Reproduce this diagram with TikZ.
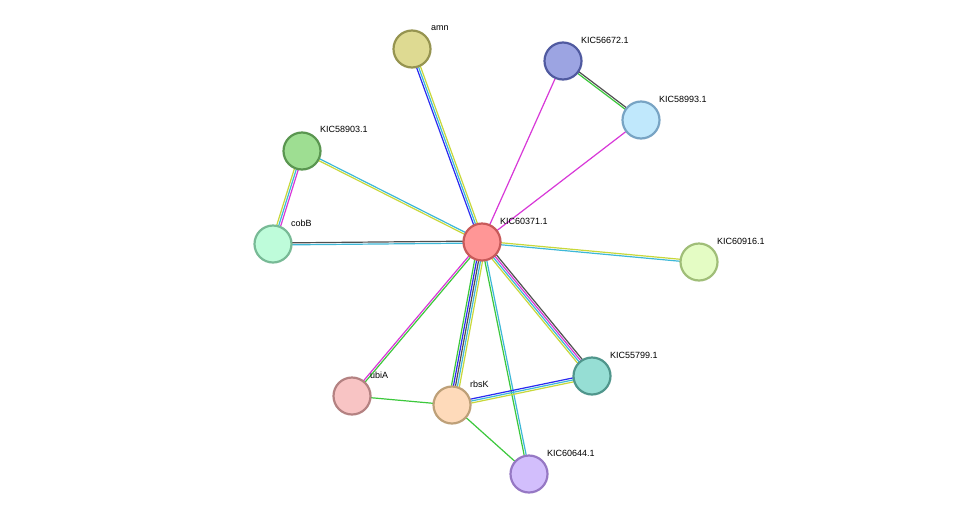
\documentclass[tikz,border=0pt]{standalone}
\usepackage{fontspec}
\setmainfont{Liberation Sans}
\usetikzlibrary{calc}
\definecolor{cY}{HTML}{C8D83A}
\definecolor{cC}{HTML}{3DB8D8}
\definecolor{cB}{HTML}{2A2AF0}
\definecolor{cK}{HTML}{505050}
\definecolor{cG}{HTML}{3CC83C}
\definecolor{cM}{HTML}{D838D8}
\newcommand{\medge}[3]{%
  \foreach \c [count=\i] in {#3} {\xdef\nn{\i}}%
  \foreach \c [count=\i] in {#3} {%
    \pgfmathsetmacro{\o}{(\i-(\nn+1)/2)*2.0}%
    \draw[\c,line width=1.2pt] ($(#1)!\o pt!90:(#2)$) -- ($(#2)!\o pt!-90:(#1)$);
  }}
\tikzset{nd/.style={circle,minimum size=37pt,inner sep=0pt,line width=2.2pt},
 lb/.style={anchor=west,font=\fontsize{9}{10}\selectfont,inner sep=0pt}}
\begin{document}
\begin{tikzpicture}[x=1pt,y=-1pt]
\useasboundingbox[fill=white] (0,0) rectangle (976,520);
\coordinate (c) at (482,242);
\coordinate (amn) at (412,49);
\coordinate (k566) at (563,61);
\coordinate (k589) at (641,120);
\coordinate (k589b) at (302,151);
\coordinate (cob) at (273,244);
\coordinate (k609) at (699,262);
\coordinate (k557) at (592,376);
\coordinate (ubi) at (352,396);
\coordinate (rbs) at (452,405);
\coordinate (k606) at (529,474);
\medge{c}{amn}{cY,cC,cB}
\medge{c}{k566}{cM}
\medge{c}{k589}{cM}
\medge{k566}{k589}{cG,cK}
\medge{c}{k589b}{cC,cY}
\medge{k589b}{cob}{cY,cC,cM}
\medge{c}{cob}{cK,cC}
\medge{c}{k609}{cC,cY}
\medge{c}{k557}{cY,cC,cM,cK}
\medge{c}{rbs}{cG,cB,cK,cC,cY}
\medge{c}{ubi}{cM,cG}
\medge{c}{k606}{cG,cC}
\medge{rbs}{k557}{cY,cC,cB}
\medge{ubi}{rbs}{cG}
\medge{rbs}{k606}{cG}
\node[nd,fill={rgb,255:red,255;green,150;blue,150},draw={rgb,255:red,200;green,90;blue,90}] (nc) at (c) {};
\node[nd,fill={rgb,255:red,222;green,218;blue,146},draw={rgb,255:red,150;green,148;blue,80}] (namn) at (amn) {};
\node[nd,fill={rgb,255:red,156;green,164;blue,226},draw={rgb,255:red,80;green,90;blue,160}] (n566) at (k566) {};
\node[nd,fill={rgb,255:red,192;green,232;blue,252},draw={rgb,255:red,120;green,164;blue,196}] (n589) at (k589) {};
\node[nd,fill={rgb,255:red,158;green,222;blue,146},draw={rgb,255:red,90;green,150;blue,80}] (n589b) at (k589b) {};
\node[nd,fill={rgb,255:red,190;green,252;blue,218},draw={rgb,255:red,120;green,186;blue,150}] (ncob) at (cob) {};
\node[nd,fill={rgb,255:red,228;green,252;blue,196},draw={rgb,255:red,160;green,190;blue,120}] (n609) at (k609) {};
\node[nd,fill={rgb,255:red,150;green,222;blue,212},draw={rgb,255:red,80;green,150;blue,140}] (n557) at (k557) {};
\node[nd,fill={rgb,255:red,248;green,196;blue,196},draw={rgb,255:red,180;green,130;blue,130}] (nubi) at (ubi) {};
\node[nd,fill={rgb,255:red,254;green,218;blue,186},draw={rgb,255:red,190;green,160;blue,120}] (nrbs) at (rbs) {};
\node[nd,fill={rgb,255:red,210;green,190;blue,252},draw={rgb,255:red,150;green,120;blue,196}] (n606) at (k606) {};
\node[lb] (lc) at (500,221) {KIC60371.1};
\node[lb] (lamn) at (431,28) {amn};
\node[lb] (l566) at (581,40) {KIC56672.1};
\node[lb] (l589) at (659,99) {KIC58993.1};
\node[lb] (l589b) at (320,129) {KIC58903.1};
\node[lb] (lcob) at (291,223) {cobB};
\node[lb] (l609) at (717,241) {KIC60916.1};
\node[lb] (l557) at (610,355) {KIC55799.1};
\node[lb] (lubi) at (370,375) {ubiA};
\node[lb] (lrbs) at (470,384) {rbsK};
\node[lb] (l606) at (547,453) {KIC60644.1};
\end{tikzpicture}
\end{document}
